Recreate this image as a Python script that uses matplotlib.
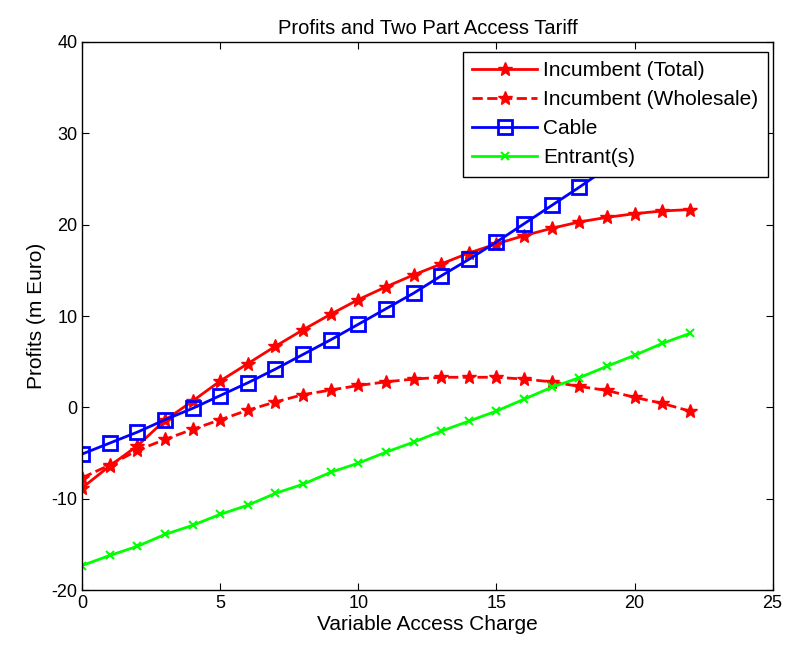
import matplotlib
matplotlib.use("Agg")
import matplotlib.pyplot as plt

plt.rcParams["font.family"] = ["Liberation Sans", "DejaVu Sans"]
plt.rcParams["axes.unicode_minus"] = False

charge = list(range(23))

total = [-8.8, -6.4, -4.2, -1.4, 0.7, 2.9, 4.8, 6.7, 8.5, 10.2, 11.8, 13.2, 14.5,
         15.7, 16.9, 17.9, 18.8, 19.6, 20.3, 20.8, 21.2, 21.5, 21.65]
wholesale = [-7.7, -6.3, -4.7, -3.5, -2.4, -1.35, -0.3, 0.6, 1.4, 1.9, 2.4, 2.8, 3.1,
             3.3, 3.3, 3.3, 3.1, 2.8, 2.3, 1.86, 1.1, 0.45, -0.4]
cable = [-5.1, -3.9, -2.7, -1.35, -0.1, 1.3, 2.7, 4.2, 5.8, 7.4, 9.1, 10.8, 12.5,
         14.4, 16.2, 18.1, 20.1, 22.1, 24.1, 26.2, 28.3, 30.4, 32.5]
entrant = [-17.3, -16.2, -15.2, -13.9, -12.9, -11.7, -10.7, -9.4, -8.4, -7.1, -6.1,
           -4.9, -3.8, -2.6, -1.5, -0.4, 0.9, 2.2, 3.25, 4.5, 5.7, 7.0, 8.1]

fig = plt.figure(figsize=(7.9, 6.45), dpi=100)
ax = fig.add_axes([0.104, 0.085, 0.874, 0.85])

ax.plot(charge, total, color="#ff0000", linestyle="-", linewidth=2,
        marker="*", markersize=10, label="Incumbent (Total)")
ax.plot(charge, wholesale, color="#ff0000", linestyle="--", linewidth=2,
        marker="*", markersize=10, label="Incumbent (Wholesale)")
ax.plot(charge, cable, color="#0000ff", linestyle="-", linewidth=2,
        marker="s", markersize=10, markerfacecolor="none", markeredgewidth=2,
        label="Cable")
ax.plot(charge, entrant, color="#00ff00", linestyle="-", linewidth=2,
        marker="x", markersize=6, markeredgewidth=1.5, label="Entrant(s)")

ax.set_xlim(0, 25)
ax.set_ylim(-20, 40)
ax.set_xticks(range(0, 26, 5))
ax.set_yticks(range(-20, 41, 10))
ax.tick_params(direction="in", top=True, right=True, labelsize=13, length=5)
for s in ax.spines.values():
    s.set_linewidth(1)

ax.set_title("Profits and Two Part Access Tariff", fontsize=14.5)
ax.set_xlabel("Variable Access Charge", fontsize=15, labelpad=2)
ax.set_ylabel("Profits (m Euro)", fontsize=15)

leg = ax.legend(loc="upper right", bbox_to_anchor=(0.993, 0.982), borderaxespad=0,
                fontsize=15, fancybox=False, framealpha=1, edgecolor="black",
                handlelength=3.1, handletextpad=0.3, labelspacing=0.48,
                borderpad=0.45)
leg.get_frame().set_linewidth(1)

fig.savefig("out.png", dpi=100)
